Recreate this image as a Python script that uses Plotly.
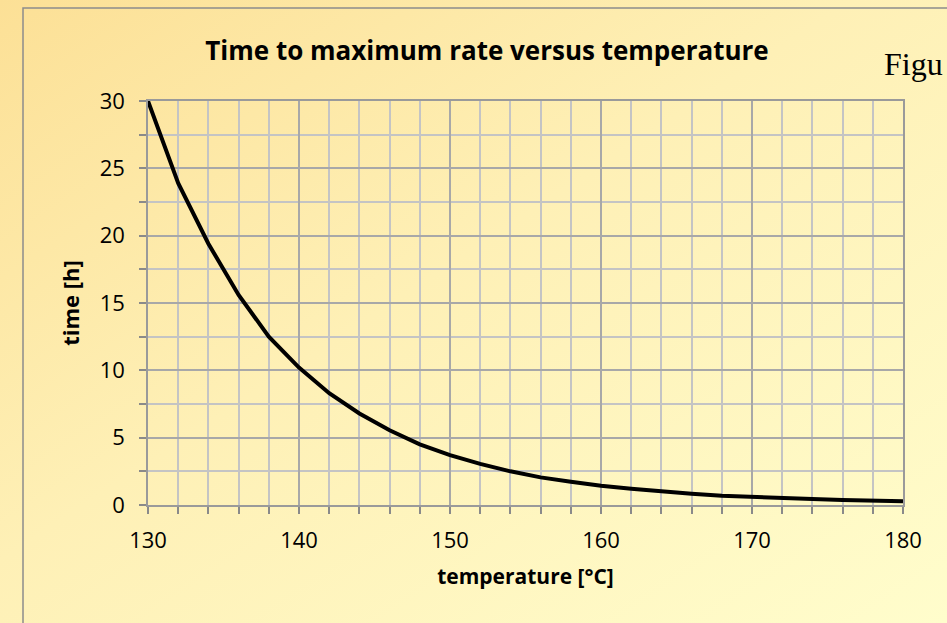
import base64
import plotly.graph_objects as go

temperature = [130, 132, 134, 136, 138, 140, 142, 144, 146, 148, 150, 152, 154,
               156, 158, 160, 162, 164, 166, 168, 170, 172, 174, 176, 178, 180]
time_h = [30.0, 23.9, 19.4, 15.6, 12.5, 10.2, 8.3, 6.8, 5.55, 4.5, 3.7, 3.05, 2.5,
          2.05, 1.73, 1.43, 1.21, 1.01, 0.84, 0.69, 0.59, 0.52, 0.45, 0.37, 0.32, 0.27]
x_ticks = [130, 140, 150, 160, 170, 180]
y_ticks = [0, 5, 10, 15, 20, 25, 30]

W, H = 947, 623
L, R, T, B = 148, 44, 101, 118
pw, ph = W - L - R, H - T - B

svg = (f"<svg xmlns='http://www.w3.org/2000/svg' width='{W}' height='{H}' preserveAspectRatio='none'>"
       "<defs><linearGradient id='g' x1='0' y1='0' x2='1' y2='1'>"
       "<stop offset='0' stop-color='#FCE096'/>"
       "<stop offset='0.45' stop-color='#FEF0B6'/>"
       "<stop offset='1' stop-color='#FFFDCC'/>"
       "</linearGradient></defs>"
       f"<rect width='{W}' height='{H}' fill='url(#g)'/></svg>")
uri = "data:image/svg+xml;base64," + base64.b64encode(svg.encode()).decode()

font = "Open Sans, Lato, sans-serif"

fig = go.Figure()
fig.add_trace(go.Scatter(x=temperature, y=time_h, mode="lines",
                         line=dict(color="black", width=4), showlegend=False,
                         hoverinfo="x+y"))

axis_common = dict(showline=True, mirror=True, linecolor="#9a9a9a", linewidth=1.5,
                   ticks="outside", ticklen=7, tickcolor="#8a8a8a", tickwidth=1.5,
                   gridcolor="#a8a8a8", gridwidth=1.5, zeroline=False,
                   tickfont=dict(family=font, size=22, color="black"))

fig.update_xaxes(range=[130, 180], tickvals=x_ticks, **axis_common,
                 ticklabelstandoff=8,
                 minor=dict(dtick=2, tick0=130, ticks="outside", ticklen=7,
                            tickcolor="#8a8a8a", tickwidth=1.5, showgrid=True,
                            gridcolor="#c4c4c4", gridwidth=1.5),
                 title=dict(text="<b>temperature [°C]</b>", standoff=16,
                            font=dict(family=font, size=21, color="black")))
fig.update_yaxes(range=[0, 30], tickvals=y_ticks, **axis_common,
                 ticklabelstandoff=10,
                 minor=dict(dtick=2.5, tick0=0, ticks="outside", ticklen=7,
                            tickcolor="#8a8a8a", tickwidth=1.5, showgrid=True,
                            gridcolor="#c4c4c4", gridwidth=1.5),
                 title=dict(text="<b>time [h]</b>", standoff=14,
                            font=dict(family=font, size=22, color="black")))

fig.update_layout(
    width=W, height=H,
    margin=dict(l=L, r=R, t=T, b=B, autoexpand=False),
    paper_bgcolor="#FEF2BC", plot_bgcolor="rgba(0,0,0,0)",
    title=dict(text="<b>Time to maximum rate versus temperature</b>",
               x=487 / W, xanchor="center", y=1 - 51 / H, yanchor="middle",
               font=dict(family=font, size=26, color="black")),
    images=[dict(source=uri, xref="paper", yref="paper",
                 x=-L / pw, y=(ph + T) / ph, sizex=W / pw, sizey=H / ph,
                 xanchor="left", yanchor="top", sizing="stretch", layer="below")],
    shapes=[dict(type="rect", xref="paper", yref="paper",
                 x0=(23 - L) / pw, x1=(W + 20 - L) / pw,
                 y0=-(B + 20) / ph, y1=(H - 8 - B) / ph,
                 line=dict(color="#8c8c8c", width=1.5), layer="below")],
    annotations=[dict(text="Figu", xref="paper", yref="paper",
                      x=(882 - L) / pw, y=(H - 64 - B) / ph, xanchor="left",
                      yanchor="middle", showarrow=False,
                      font=dict(family="Liberation Serif, DejaVu Serif, serif",
                                size=32, color="black"))],
)

fig.write_html("out.html", config={"displayModeBar": False},
               post_script="document.body.style.margin='0';document.body.style.overflow='hidden';")
